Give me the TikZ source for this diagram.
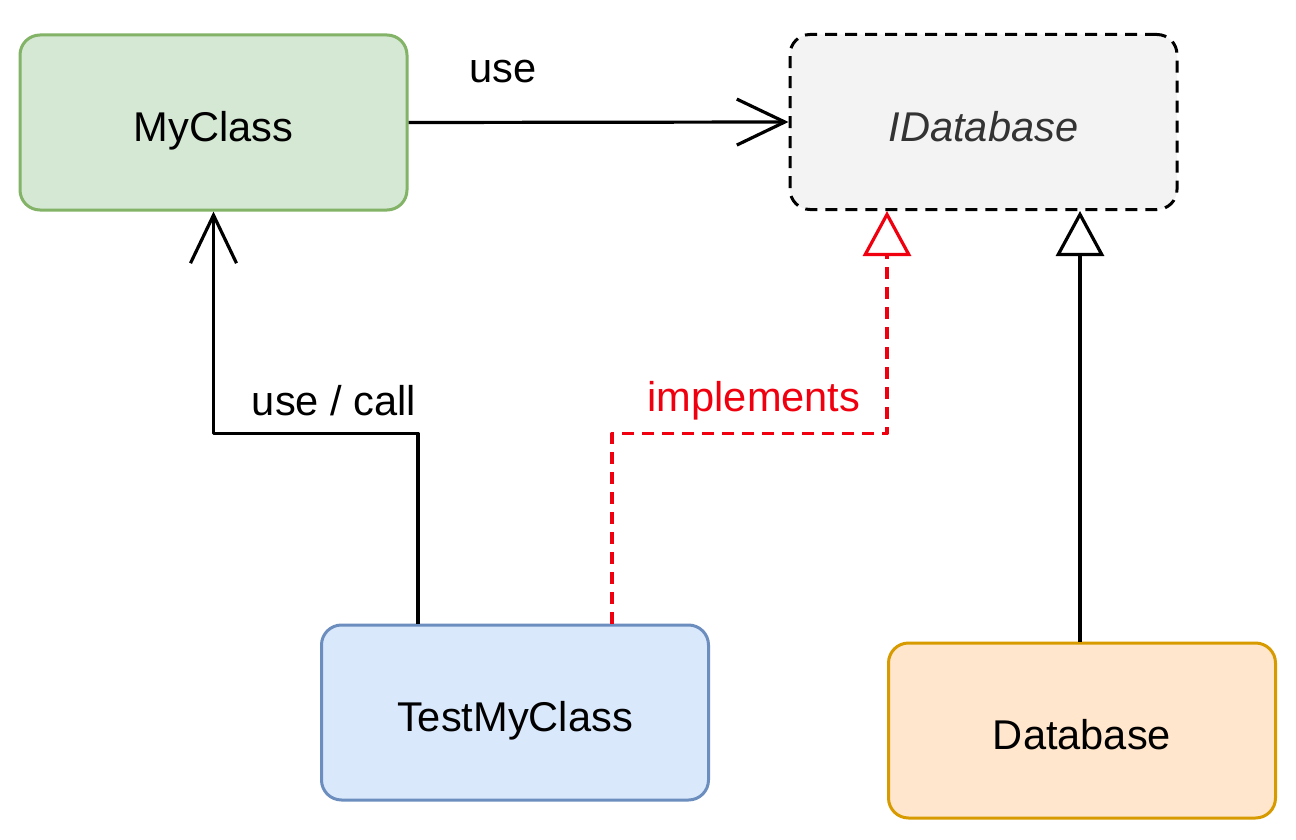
\documentclass[tikz,border=0pt]{standalone}
\usepackage{fontspec}
\setmainfont{Liberation Sans}
\usetikzlibrary{arrows.meta,calc}
\definecolor{gfill}{HTML}{D5E8D4}
\definecolor{gline}{HTML}{82B366}
\definecolor{ifill}{HTML}{F3F3F3}
\definecolor{itext}{HTML}{333333}
\definecolor{bfill}{HTML}{DAE8FC}
\definecolor{bline}{HTML}{6C8EBF}
\definecolor{ofill}{HTML}{FFE6CC}
\definecolor{oline}{HTML}{D79B00}
\definecolor{redc}{HTML}{F0000F}
\tikzset{
  box/.style={rectangle, rounded corners=10pt, line width=1.5pt,
    minimum width=193.5pt, minimum height=87.5pt, inner sep=0pt,
    text height=19pt, text depth=0pt,
    font=\fontsize{20.8}{24}\selectfont},
  conn/.style={line width=1.6pt, line join=round},
  usearrow/.style={conn, -{Straight Barb[length=24pt,width=23pt,line width=1.6pt]}},
  realize/.style={conn, -{Triangle[open,length=22.5pt,width=24pt,line width=1.6pt]}},
  lbl/.style={font=\fontsize{20.8}{24}\selectfont, inner sep=0pt},
}
\begin{document}
\begin{tikzpicture}[x=0.5pt,y=-0.5pt]
\useasboundingbox[fill=white] (0,0) rectangle (1296,840);
\node[box, fill=gfill, draw=gline] (my) at (213.5,122.5) {MyClass};
\node[box, fill=ifill, draw=black, dash pattern=on 6pt off 4pt, text=itext, font=\fontsize{20.8}{24}\selectfont\itshape] (idb) at (983.5,122) {IDatabase};
\node[box, fill=bfill, draw=bline] (test) at (515,712.5) {TestMyClass};
\node[box, fill=ofill, draw=oline] (db) at (1082,730.5) {Database};

\draw[usearrow] (my.east) -- (idb.west);
\draw[usearrow] ([xshift=-48.5pt]test.north) -- ++(0,-190) -| (my.south);
\draw[realize, draw=redc, dash pattern=on 6pt off 4pt] ([xshift=48.5pt]test.north) -- ++(0,-190) -| ([xshift=-48.25pt]idb.south);
\draw[realize] ([xshift=-1pt]db.north) -- ([xshift=48.25pt]idb.south);

\node[lbl] (l1) at (503,72) {use};
\node[lbl] (l2) at (334,401) {use / call};
\node[lbl, text=redc] (l3) at (754,401) {implements};
\end{tikzpicture}
\end{document}
